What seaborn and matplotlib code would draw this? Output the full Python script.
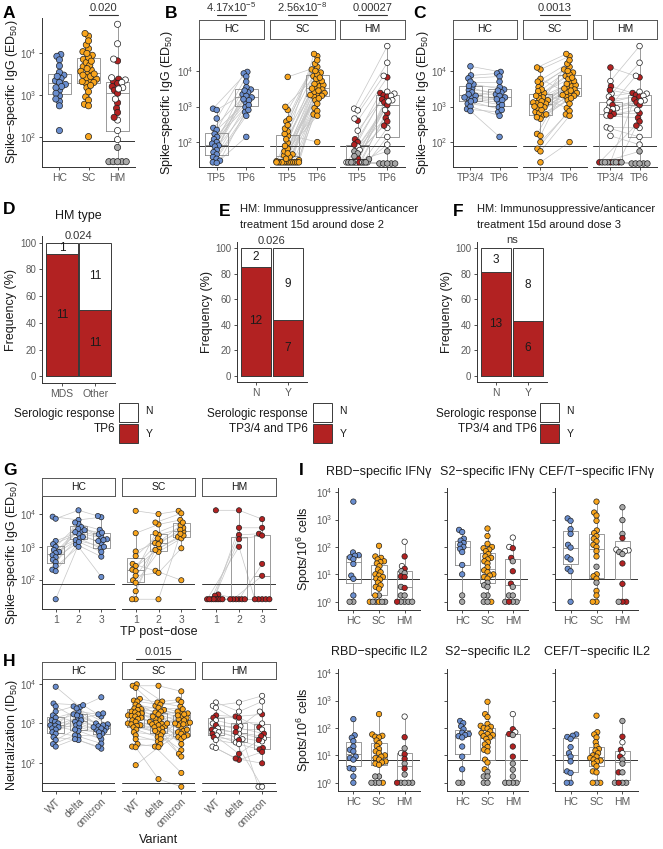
### Imports
import numpy as np
import pandas as pd
import matplotlib.pyplot as plt
import matplotlib.transforms as mtransforms
from matplotlib.patches import Rectangle
from matplotlib.ticker import FixedLocator, NullLocator, LogFormatterSciNotation
import seaborn as sns

### Dados (mesma ordem de individuos entre tempos)
# IgG anti-spike (ED50), TP5 / TP6 / TP3-4
hc_tp5 = [870, 800, 460, 250, 220, 170, 140, 120, 100, 90, 80, 75, 60, 52, 45, 38, 34, 30, 27, 26]
hc_tp6 = [9400, 2200, 8500, 3000, 1300, 7000, 2500, 1800, 5000, 950, 2000, 1600, 3500, 700, 1500, 2800, 550, 1100, 800, 140]
hc_tp34 = [13500, 3300, 7500, 4200, 1700, 6200, 2900, 1900, 5000, 1200, 2500, 2200, 3800, 850, 1800, 2000, 1000, 1500, 1400, 750]

sc_tp5 = [42, 380, 27, 27, 150, 27, 6800, 31, 95, 450, 27, 200, 170, 45, 800, 27, 240, 27, 55, 980,
          27, 65, 38, 27, 300, 27, 120, 48, 27, 78, 34, 29, 27, 27, 27]
sc_tp6 = [4800, 26000, 9000, 600, 30000, 3400, 13000, 2200, 7200, 16000, 1900, 6000, 100, 3700, 20000, 2600, 11000, 1500,
          4000, 8000, 900, 5200, 3000, 2100, 10000, 1200, 6500, 2800, 750, 4300, 2400, 3200, 550, 2000, 1700]
sc_tp34 = [1500, 11000, 170, 65, 12500, 1200, 4300, 6000, 2200, 5000, 560, 150, 27, 1250, 700, 900, 3500, 450,
           1300, 2400, 1800, 1700, 1000, 650, 3000, 2700, 2000, 950, 100, 1400, 800, 1100, 55, 600, 500]

hm_tp5 = [870, 400, 780, 120, 460, 100, 210, 27, 75, 85, 60, 27, 27, 35, 27, 27, 27, 55, 27, 48,
          27, 40, 33, 27, 27, 27, 27, 27, 27]
hm_tp5_cor = 'wrwrwrwrwrwrwrwrwgwgwggggggg' + 'g'
hm_tp6 = [50000, 6600, 17000, 2400, 7300, 2100, 2600, 1900, 2300, 1600, 2000, 1300, 1500, 1100, 1400, 650, 800, 480,
          250, 380, 140, 290, 85, 55, 25, 25, 25, 25, 25]
hm_tp6_cor = 'wrwrwrwrwrwrwrwrwrwrwrwgggggg'
hm_tp34 = [5200, 12500, 2300, 3700, 950, 2900, 1900, 1600, 1300, 27, 900, 1100, 850, 700, 780, 620, 560, 540,
           260, 27, 240, 27, 150, 27, 27, 27, 27, 27, 27]
hm_tp34_cor = 'wrwrwrwrwrwrwrwrwrwrwrwgggggg'

# D/E/F: respostas (Y) e nao-respostas (N)
d_cats = ['MDS', 'Other']
d_sim = [11, 11]
d_nao = [1, 11]
e_cats = ['N', 'Y']
e_sim = [12, 7]
e_nao = [2, 9]
f_cats = ['N', 'Y']
f_sim = [13, 6]
f_nao = [3, 8]

# G: IgG por dose
g_hc_1 = [8300, 7200, 1500, 1200, 1000, 800, 700, 640, 550, 480, 400, 340, 260, 200, 180, 25]
g_hc_2 = [6600, 13000, 3000, 2500, 5000, 1800, 4000, 2000, 3500, 1200, 2800, 1600, 5500, 1000, 1400, 3200]
g_hc_3 = [8000, 8700, 2000, 1300, 3300, 900, 2400, 1500, 2700, 500, 1700, 1000, 1600, 120, 700, np.nan]
g_sc_1 = [12500, 2600, 720, 520, 300, 260, 200, 180, 130, 95, 80, 44, 25, 25, np.nan]
g_sc_2 = [10000, 4800, 1300, 2300, 185, 1500, 900, 2600, 160, 1200, 700, 800, 25, 1800, 5500]
g_sc_3 = [12500, 6600, 2900, 3800, 95, 4500, 2000, 5500, 900, 3300, 1800, 2200, 2500, np.nan, 10500]
g_hm_1 = [13000, 35, 32, 25, 25, 25, 25, 25, 25, 25, 25]
g_hm_2 = [13000, 25, 3800, 25, 2300, 25, 1700, 25, 1000, 25, 25]
g_hm_3 = [7000, 300, 3800, 25, 2500, 130, 2200, 25, 25, 25, 25]

# H: neutralizacao (ID50)
h_hc_wt = [8500, 3200, 2700, 2000, 1600, 1400, 1200, 1100, 1000, 900, 880, 800, 750, 700, 600, 550, 450, 380, 300, 260]
h_hc_delta = [2600, 2900, 1300, 2700, 1100, 2000, 900, 1700, 2400, 800, 1500, 650, 1200, 1000, 470, 1600, 380, 700, 500, 400]
h_hc_omi = [4600, 1500, 1800, 950, 780, 1700, 650, 1000, 850, 550, 900, 400, 750, 700, 310, 800, 230, 600, 480, 260]
h_sc_wt = [9800, 9000, 8000, 4200, 3800, 3600, 3000, 2700, 2400, 2300, 2200, 2000, 1900, 1800, 1700, 1600, 1550, 1500,
           1400, 1300, 1200, 1100, 1000, 950, 900, 870, 800, 700, 600, 500, 400, 300, 260, 250, 88]
h_sc_delta = [3600, 9000, 2800, 3400, 1400, 3000, 2200, 1900, 2500, 1200, 2000, 1700, 1300, 1050, 1500, 980, 1100, 850,
              900, 1000, 750, 950, 700, 560, 800, 650, 600, 450, 500, 350, 400, 260, 300, 39, 250]
h_sc_omi = [4000, 6500, 1900, 2700, 800, 3500, 1500, 1400, 2300, 650, 1800, 1100, 1000, 600, 2000, 450, 1700, 400,
            1300, 1600, 300, 1200, 500, 210, 1050, 900, 170, 550, 145, 1000, 460, 56, 950, 25, 700]
h_hm_wt = [3400, 2800, 2500, 1600, 1400, 1200, 1000, 900, 750, 700, 650, 600, 550, 500, 450, 380, 260, 240]
h_hm_wt_cor = 'wwwrrwwrwrwwrwrwww'
h_hm_delta = [2000, 3400, 1100, 1500, 1400, 850, 700, 800, 550, 600, 450, 400, 170, 330, 380, 300, 120, 130]
h_hm_delta_cor = 'wwwrrwwrwrwwrwrwrr'
h_hm_omi = [3600, 5000, 1000, 1700, 800, 2000, 700, 550, 420, 480, 350, 25, 380, 25, 240, 220, 190, 98]
h_hm_omi_cor = 'wwwrrwwrwrwwrwrrrr'

# I: ELISpot (spots/10^6 celulas)
rbd_ifn_hc = [4500, 63, 50, 48, 42, 36, 24, 9, 6.9, 1.7, 1, 1]
rbd_ifn_hc_cor = 'c' * 10 + 'gg'
rbd_ifn_sc = [110, 45, 40, 35, 30, 28, 25, 20, 15, 12, 10, 9, 8, 7, 6.5, 5, 4, 3.5, 3, 1.7, 1.7, 1, 1, 1, 1, 1, 1]
rbd_ifn_sc_cor = 'c' * 19 + 'gcgcgcgg'
rbd_ifn_hm = [155, 45, 20, 16, 13, 11, 8.4, 8, 3.5, 3.2, 1.7, 1.7, 1, 1, 1, 1, 1]
rbd_ifn_hm_cor = 'wrwrggrrgrgggggrg'
s2_ifn_hc = [420, 350, 200, 170, 140, 120, 100, 85, 65, 22, 10, 1.7, 1]
s2_ifn_hc_cor = 'c' * 11 + 'gg'
s2_ifn_sc = [470, 250, 130, 100, 90, 80, 70, 55, 45, 40, 35, 30, 25, 18, 14, 12, 10, 9, 8, 7, 5, 4, 3.5, 1.7, 1.7, 1, 1, 1]
s2_ifn_sc_cor = 'c' * 20 + 'ggggggcg'
s2_ifn_hm = [220, 100, 90, 40, 30, 13, 4.6, 3.5, 1.7, 1.7, 1, 1, 1, 1]
s2_ifn_hm_cor = 'wwrrgrrggggggr'
cef_ifn_hc = [1100, 900, 450, 300, 120, 95, 42, 35, 16, 13, 1]
cef_ifn_hc_cor = 'c' * 11
cef_ifn_sc = [4500, 1800, 1400, 900, 400, 320, 250, 200, 160, 120, 100, 70, 45, 19, 10, 8.5, 7, 5, 2.5, 1.7, 1, 1]
cef_ifn_sc_cor = 'c' * 13 + 'gcccgcccc'
cef_ifn_hm = [2800, 950, 300, 210, 80, 75, 70, 65, 55, 25, 4.5, 1, 1, 1]
cef_ifn_hm_cor = 'gggrwwwggrrrrg'

rbd_il2_hc = [210, 54, 44, 33, 21, 16, 14, 9, 8, 7, 3.4, 3.2, 1.7, 1]
rbd_il2_hc_cor = 'c' * 14
rbd_il2_sc = [320, 58, 52, 48, 45, 35, 28, 22, 17, 14, 12, 10, 9, 8, 7, 6, 5.5, 5, 4.5, 1.7, 1.7, 1, 1, 1, 1]
rbd_il2_sc_cor = 'c' * 19 + 'ggggcg'
rbd_il2_hm = [260, 46, 18, 12, 11, 7.5, 5, 3.3, 2, 1, 1, 1, 1, 1]
rbd_il2_hm_cor = 'wrgwrrgrgggggr'
s2_il2_hc = [180, 150, 115, 90, 67, 60, 55, 50, 45, 21, 9, 3.1, 1, 1]
s2_il2_hc_cor = 'c' * 12 + 'gg'
s2_il2_sc = [900, 320, 250, 140, 120, 110, 100, 95, 75, 65, 60, 55, 50, 45, 40, 30, 25, 20, 16, 14, 7, 5.5, 3.1, 2.5, 1.7, 1.7, 1, 1]
s2_il2_sc_cor = 'c' * 23 + 'ggggg'
s2_il2_hm = [320, 90, 70, 60, 55, 21, 9, 5, 3, 1.7, 1, 1, 1, 1]
s2_il2_hm_cor = 'wrwrgrrggggggg'
cef_il2_hc = [58, 52, 47, 40, 20, 12, 9, 6, 2.6, 2.3, 1, 1]
cef_il2_hc_cor = 'c' * 12
cef_il2_sc = [280, 70, 58, 45, 30, 22, 17, 15, 12, 10, 9, 8, 7, 6.5, 6, 5, 4, 2.6, 2.4, 1, 1, 1]
cef_il2_sc_cor = 'c' * 20 + 'gc'
cef_il2_hm = [180, 48, 30, 16, 12, 9, 7, 5, 2.4, 2.4, 1, 1, 1, 1]
cef_il2_hm_cor = 'grwrwrggrggggr'

### Estilo
sns.set_theme(style='ticks')
plt.rcParams['font.family'] = ['Liberation Sans', 'DejaVu Sans']
plt.rcParams['mathtext.default'] = 'regular'

COR = {'HC': '#6A8ECF', 'SC': '#F9A51C', 'HM': '#B22222'}
EXTRA = {'w': '#FFFFFF', 'r': '#B22222', 'g': '#A8A8A8'}
TXT = '#1a1a1a'

W, H = 663, 849
fig = plt.figure(figsize=(W / 100, H / 100), dpi=100)


def fx(x):
    return x / W


def fy(y):
    return 1 - y / H


def eixo(x0, y0, x1, y1):
    return fig.add_axes([x0 / W, 1 - y1 / H, (x1 - x0) / W, (y1 - y0) / H])


def texto(x, y, s, **kw):
    kw.setdefault('va', 'center')
    kw.setdefault('color', TXT)
    fig.text(fx(x), fy(y), s, **kw)


def cores_de(codigos, grupo):
    return [COR[grupo] if c == 'c' else EXTRA[c] for c in codigos]


def estilo(ax, esquerda=True, rotulos=True):
    sns.despine(ax=ax, left=not esquerda)
    for lado in ['left', 'bottom']:
        ax.spines[lado].set_color('#333333')
        ax.spines[lado].set_linewidth(0.7)
    ax.tick_params(colors='#333333', labelcolor='#5a5a5a', labelsize=7, length=2.5, width=0.6, pad=1.5)
    ax.tick_params(axis='x', labelsize=7.5)
    ax.tick_params(axis='y', left=esquerda, labelleft=(esquerda and rotulos))
    ax.set_xlabel('')
    ax.set_ylabel('')


def enxame(ax, vals, d, cap_frac):
    # beeswarm simples em pixels (com sobreposicao parcial)
    pos = ax.get_position()
    wpx, hpx = pos.width * W, pos.height * H
    x0, x1 = ax.get_xlim()
    y0, y1 = np.log10(ax.get_ylim())
    sx = wpx / (x1 - x0)
    sy = hpx / (y1 - y0)
    v = np.asarray(vals, float)
    ypx = np.log10(v) * sy
    offs = np.zeros(len(v))
    feitos = []
    for i in np.argsort(ypx):
        if np.isnan(ypx[i]):
            continue
        proib = []
        for xj, yj in feitos:
            dy = abs(ypx[i] - yj)
            if dy < d:
                dx = np.sqrt(d * d - dy * dy)
                proib.append((xj - dx, xj + dx))
        cands = sorted([0.0] + [a for a, b in proib] + [b for a, b in proib], key=abs)
        escolha = cands[-1]
        for c in cands:
            if all(c <= a + 1e-6 or c >= b - 1e-6 for a, b in proib):
                escolha = c
                break
        offs[i] = escolha
        feitos.append((escolha, ypx[i]))
    cap = cap_frac * sx
    for val in np.unique(v[~np.isnan(v)]):
        m = v == val
        mx = np.abs(offs[m]).max()
        if mx > cap:
            offs[m] *= cap / mx
    mx = np.nanmax(np.abs(offs))
    if mx > cap:
        offs *= cap / mx
    return offs / sx


def painel(ax, cats, series, fills, ylim, d, corte, linhas=False, box_w=0.8, marcas=(1e2, 1e3, 1e4), cap=0.38):
    ax.set_yscale('log')
    df = pd.DataFrame({'cat': np.repeat(cats, [len(s) for s in series]),
                       'val': np.concatenate([np.asarray(s, float) for s in series])})
    sns.boxplot(data=df, x='cat', y='val', order=cats, width=box_w, fill=False, color='#8a8a8a',
                linewidth=0.6, showcaps=False, showfliers=False, saturation=1, ax=ax)
    ax.set_xlim(-0.6, len(cats) - 0.4)
    ax.set_ylim(*ylim)
    ax.axhline(corte, color='#333333', lw=0.7, zorder=1.8)
    offs = [enxame(ax, s, d * 0.7, cap) for s in series]
    if linhas:
        for i in range(len(series[0])):
            xs = [k + offs[k][i] for k in range(len(cats))]
            ys = [series[k][i] for k in range(len(cats))]
            ax.plot(xs, ys, color='#c6c6c6', lw=0.5, zorder=1.5)
    for k, s in enumerate(series):
        ax.scatter(k + offs[k], s, s=(d * 0.72) ** 2, c=fills[k], edgecolors='#1f1f1f',
                   linewidths=0.5, zorder=3, clip_on=False)
    ax.yaxis.set_major_locator(FixedLocator(list(marcas)))
    ax.yaxis.set_major_formatter(LogFormatterSciNotation())
    ax.yaxis.set_minor_locator(NullLocator())
    ax.set_xticks(range(len(cats)), cats)


def faixa(x0, y0, x1, y1, rotulo):
    sa = eixo(x0, y0, x1, y1)
    sa.set_xticks([])
    sa.set_yticks([])
    sa.set_facecolor('white')
    for sp in sa.spines.values():
        sp.set_visible(True)
        sp.set_color('#555555')
        sp.set_linewidth(0.7)
    sa.text(0.5, 0.5, rotulo, ha='center', va='center', fontsize=7.5, color=TXT, transform=sa.transAxes)


def colchete(ax, x1, x2, ylin, rotulo, ytxt, linha=True):
    tr = mtransforms.blended_transform_factory(ax.transData, fig.transFigure)
    if linha:
        ax.plot([x1, x2], [fy(ylin)] * 2, transform=tr, color='#333333', lw=0.8, clip_on=False)
    ax.text((x1 + x2) / 2, fy(ytxt), rotulo, transform=tr, ha='center', va='center', fontsize=8, color='#333333')


def facetas(xs, y0, y1, ys0, cats, dados, ylim, d, corte, box_w, rot=False):
    eixos = []
    for j, ((xa, xb), grupo) in enumerate(zip(xs, ['HC', 'SC', 'HM'])):
        ax = eixo(xa, y0, xb, y1)
        series, codigos = dados[j]
        fills = [cores_de(c, grupo) for c in codigos]
        painel(ax, cats, series, fills, ylim, d, corte, linhas=True, box_w=box_w)
        estilo(ax, esquerda=(j == 0))
        if rot:
            ax.set_xticks(range(len(cats)), cats, rotation=45, ha='right', rotation_mode='anchor')
        faixa(xa, ys0, xb, y0 - 1, grupo)
        eixos.append(ax)
    return eixos


YL_IGG = 'Spike\u2212specific IgG (ED$_{50}$)'

### A
axA = eixo(42, 18, 135, 167)
painel(axA, ['HC', 'SC', 'HM'], [hc_tp6, sc_tp6, hm_tp6],
       [cores_de('c' * len(hc_tp6), 'HC'), cores_de('c' * len(sc_tp6), 'SC'), cores_de(hm_tp6_cor, 'HM')],
       (10 ** 1.27, 10 ** 4.85), 6.2, 80)
estilo(axA)
colchete(axA, 1, 2, 15, '0.020', 8)
texto(12, 92, YL_IGG, rotation=90, ha='center', fontsize=9)

### B
ylim_bc = (10 ** 1.30, 10 ** 4.87)
axB = facetas([(199, 264), (270, 335), (340, 405)], 40, 167, 20, ['TP5', 'TP6'],
              [([hc_tp5, hc_tp6], ['c' * 20, 'c' * 20]),
               ([sc_tp5, sc_tp6], ['c' * 35, 'c' * 35]),
               ([hm_tp5, hm_tp6], [hm_tp5_cor, hm_tp6_cor])],
              ylim_bc, 5.6, 80, 0.78)
colchete(axB[0], 0, 1, 15, '4.17x10$^{-5}$', 7)
colchete(axB[1], 0, 1, 15, '2.56x10$^{-8}$', 7)
colchete(axB[2], 0, 1, 15, '0.00027', 8)
texto(167, 103, YL_IGG, rotation=90, ha='center', fontsize=9)

### C
axC = facetas([(453, 517), (523, 587), (593, 657)], 40, 167, 20, ['TP3/4', 'TP6'],
              [([hc_tp34, hc_tp6], ['c' * 20, 'c' * 20]),
               ([sc_tp34, sc_tp6], ['c' * 35, 'c' * 35]),
               ([hm_tp34, hm_tp6], [hm_tp34_cor, hm_tp6_cor])],
              ylim_bc, 5.6, 80, 0.78)
colchete(axC[1], 0, 1, 15, '0.0013', 8)
texto(423, 103, YL_IGG, rotation=90, ha='center', fontsize=9)


### D, E, F
def barras(ax, cats, sim, nao):
    tot = [a + b for a, b in zip(sim, nao)]
    pct = [100 * a / t for a, t in zip(sim, tot)]
    sns.barplot(x=cats, y=[100] * len(cats), color='white', edgecolor='#3a3a3a', linewidth=0.7,
                width=0.95, saturation=1, errorbar=None, ax=ax)
    sns.barplot(x=cats, y=pct, color='#B22222', edgecolor='#3a3a3a', linewidth=0.7,
                width=0.95, saturation=1, errorbar=None, ax=ax)
    for k in range(len(cats)):
        ax.text(k, pct[k] / 2, str(sim[k]), ha='center', va='center', fontsize=8.5, color=TXT)
        ax.text(k, (100 + pct[k]) / 2, str(nao[k]), ha='center', va='center', fontsize=8.5, color=TXT)
    ax.set_ylim(-5, 105)
    ax.set_xlim(-0.6, len(cats) - 0.4)
    ax.set_yticks([0, 20, 40, 60, 80, 100])
    estilo(ax)


def legenda(xr, l2, xbox):
    texto(xr, 414, 'Serologic response', ha='right', fontsize=8.5)
    texto(xr, 429, l2, ha='right', fontsize=8.5)
    fig.add_artist(Rectangle((fx(xbox), fy(422)), 19 / W, 19 / H, facecolor='white', edgecolor='#3a3a3a',
                             lw=0.7, transform=fig.transFigure))
    fig.add_artist(Rectangle((fx(xbox), fy(443)), 19 / W, 19 / H, facecolor='#B22222', edgecolor='#3a3a3a',
                             lw=0.7, transform=fig.transFigure))
    texto(xbox + 30, 411, 'N', ha='center', fontsize=7.5)
    texto(xbox + 30, 434, 'Y', ha='center', fontsize=7.5)


axD = eixo(42, 236, 115, 383)
barras(axD, d_cats, d_sim, d_nao)
colchete(axD, 0, 1, 0, '0.024', 236, linha=False)
texto(78, 216, 'HM type', ha='center', fontsize=9)
texto(11, 310, 'Frequency (%)', rotation=90, ha='center', fontsize=9)
legenda(115, 'TP6', 119)

axE = eixo(237, 242, 307, 382)
barras(axE, e_cats, e_sim, e_nao)
colchete(axE, 0, 1, 0, '0.026', 241, linha=False)
texto(240, 209, 'HM: Immunosuppressive/anticancer', ha='left', fontsize=8)
texto(240, 225, 'treatment 15d around dose 2', ha='left', fontsize=8)
texto(207, 312, 'Frequency (%)', rotation=90, ha='center', fontsize=9)
legenda(308, 'TP3/4 and TP6', 313)

axF = eixo(477, 242, 547, 382)
barras(axF, f_cats, f_sim, f_nao)
colchete(axF, 0, 1, 0, 'ns', 240, linha=False)
texto(477, 209, 'HM: Immunosuppressive/anticancer', ha='left', fontsize=8)
texto(477, 225, 'treatment 15d around dose 3', ha='left', fontsize=8)
texto(447, 312, 'Frequency (%)', rotation=90, ha='center', fontsize=9)
legenda(537, 'TP3/4 and TP6', 540)

### G
xs_gh = [(42, 115), (122, 195), (202, 276)]
axG = facetas(xs_gh, 497, 609, 478, ['1', '2', '3'],
              [([g_hc_1, g_hc_2, g_hc_3], ['c' * 16] * 3),
               ([g_sc_1, g_sc_2, g_sc_3], ['c' * 15] * 3),
               ([g_hm_1, g_hm_2, g_hm_3], ['c' * 11] * 3)],
              (10 ** 1.10, 10 ** 4.52), 5.2, 75, 0.72)
texto(12, 553, YL_IGG, rotation=90, ha='center', fontsize=9)
texto(159, 632, 'TP post\u2212dose', ha='center', fontsize=9)

### H
axH = facetas(xs_gh, 680, 791, 662, ['WT', 'delta', 'omicron'],
              [([h_hc_wt, h_hc_delta, h_hc_omi], ['c' * 20] * 3),
               ([h_sc_wt, h_sc_delta, h_sc_omi], ['c' * 35] * 3),
               ([h_hm_wt, h_hm_delta, h_hm_omi], [h_hm_wt_cor, h_hm_delta_cor, h_hm_omi_cor])],
              (10 ** 1.29, 10 ** 4.1), 5.2, 31, 0.72, rot=True)
colchete(axH[1], 0, 2, 659, '0.015', 652)
texto(12, 735, 'Neutralization (ID$_{50}$)', rotation=90, ha='center', fontsize=9)
texto(159, 840, 'Variant', ha='center', fontsize=9)

### I
paineis_i = [
    ('RBD\u2212specific IFN\u03b3', [rbd_ifn_hc, rbd_ifn_sc, rbd_ifn_hm], [rbd_ifn_hc_cor, rbd_ifn_sc_cor, rbd_ifn_hm_cor]),
    ('S2\u2212specific IFN\u03b3', [s2_ifn_hc, s2_ifn_sc, s2_ifn_hm], [s2_ifn_hc_cor, s2_ifn_sc_cor, s2_ifn_hm_cor]),
    ('CEF/T\u2212specific IFN\u03b3', [cef_ifn_hc, cef_ifn_sc, cef_ifn_hm], [cef_ifn_hc_cor, cef_ifn_sc_cor, cef_ifn_hm_cor]),
    ('RBD\u2212specific IL2', [rbd_il2_hc, rbd_il2_sc, rbd_il2_hm], [rbd_il2_hc_cor, rbd_il2_sc_cor, rbd_il2_hm_cor]),
    ('S2\u2212specific IL2', [s2_il2_hc, s2_il2_sc, s2_il2_hm], [s2_il2_hc_cor, s2_il2_sc_cor, s2_il2_hm_cor]),
    ('CEF/T\u2212specific IL2', [cef_il2_hc, cef_il2_sc, cef_il2_hm], [cef_il2_hc_cor, cef_il2_sc_cor, cef_il2_hm_cor]),
]
xs_i = [(338, 420), (447, 528), (555, 638)]
ys_i = [(488, 610, 472), (669, 791, 652)]
for n, (titulo, series, cods) in enumerate(paineis_i):
    xa, xb = xs_i[n % 3]
    ya, yb, yt = ys_i[n // 3]
    ax = eixo(xa, ya, xb, yb)
    fills = [cores_de(c, g) for c, g in zip(cods, ['HC', 'SC', 'HM'])]
    painel(ax, ['HC', 'SC', 'HM'], series, fills, (10 ** -0.3, 10 ** 4.15), 5.4, 7,
           box_w=0.6, marcas=(1, 10, 100, 1e3, 1e4), cap=0.36)
    estilo(ax, esquerda=True, rotulos=(n % 3 == 0))
    texto((xa + xb) / 2, yt, titulo, ha='center', fontsize=9)
texto(304, 549, 'Spots/10$^6$ cells', rotation=90, ha='center', fontsize=9)
texto(304, 730, 'Spots/10$^6$ cells', rotation=90, ha='center', fontsize=9)

### Letras dos paineis
for letra, x, y in [('A', 3, 13), ('B', 165, 13), ('C', 413, 13), ('D', 3, 210), ('E', 219, 211),
                    ('F', 453, 211), ('G', 3, 470), ('H', 3, 662), ('I', 299, 470)]:
    texto(x, y, letra, ha='left', fontsize=12.5, fontweight='bold', color='black')

fig.savefig('out.png', dpi=100)
